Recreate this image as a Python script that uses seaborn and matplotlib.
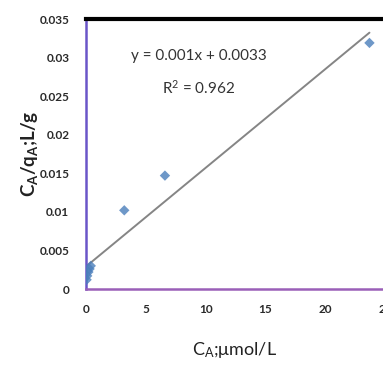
import matplotlib
matplotlib.use("Agg")
import matplotlib.pyplot as plt
import seaborn as sns
import pandas as pd

# Data
ca = [0.05, 0.1, 0.2, 0.3, 0.4, 3.2, 6.6, 23.7]
ca_qa = [0.0012, 0.0017, 0.0022, 0.0026, 0.0030, 0.0102, 0.0147, 0.0319]
x_ticks = [0, 5, 10, 15, 20, 25]
y_ticks = [0, 0.005, 0.01, 0.015, 0.02, 0.025, 0.03, 0.035]
y_tick_labels = ["0", "0.005", "0.01", "0.015", "0.02", "0.025", "0.03", "0.035"]
eq_text = "y = 0.001x + 0.0033"
r2_text = "R$^2$ = 0.962"

df = pd.DataFrame({"ca": ca, "ca_qa": ca_qa})

sns.set_style("white")
plt.rcParams["font.family"] = ["Lato", "DejaVu Sans"]
plt.rcParams["mathtext.fontset"] = "custom"
plt.rcParams["mathtext.rm"] = "Lato"
plt.rcParams["mathtext.it"] = "Lato:italic"
plt.rcParams["mathtext.bf"] = "Lato:bold"

fig = plt.figure(figsize=(3.83, 3.74), dpi=100)
ax = fig.add_axes([86 / 383, 1 - 289 / 374, 299 / 383, 270 / 374])

sns.regplot(data=df, x="ca", y="ca_qa", ax=ax, ci=None, truncate=True,
            marker="D",
            scatter_kws=dict(s=28, color="#4a7ebb", edgecolor="none", zorder=3),
            line_kws=dict(color="#858585", lw=1.4, zorder=2))

ax.set_xlim(0, 25)
ax.set_ylim(0, 0.035)
ax.set_xticks(x_ticks)
ax.set_yticks(y_ticks)
ax.set_yticklabels(y_tick_labels)
ax.tick_params(axis="both", labelsize=8.5, colors="#2a2a2a", length=3,
               width=0.8, direction="out")
for lab in ax.get_xticklabels() + ax.get_yticklabels():
    lab.set_fontweight("bold")
    lab.set_family(["Liberation Sans Narrow", "Lato"])
ax.tick_params(axis="x", pad=8)
ax.tick_params(axis="y", pad=9)

ax.spines["top"].set_color("black")
ax.spines["top"].set_linewidth(3)
ax.spines["left"].set_color("#6a55c8")
ax.spines["left"].set_linewidth(1.8)
ax.spines["bottom"].set_color("#9a5fb8")
ax.spines["bottom"].set_linewidth(1.8)
ax.spines["right"].set_visible(False)

ax.set_xlabel("")
ax.set_ylabel("")
fig.text(30 / 383, 1 - 154 / 374, r"C$_\mathbf{A}$/q$_\mathbf{A}$;L/g",
         rotation=90, ha="center", va="center", fontsize=13.5,
         fontweight="bold", color="#222222")
fig.text(234 / 383, 1 - 350 / 374, r"C$_\mathrm{A}$;μmol/L",
         ha="center", va="center", fontsize=13, color="#222222")

fig.text(199 / 383, 1 - 56 / 374, eq_text, ha="center", va="center",
         fontsize=11, color="#333333")
fig.text(199 / 383, 1 - 88 / 374, r2_text, ha="center", va="center",
         fontsize=11, color="#333333")

fig.savefig("out.png", dpi=100)
